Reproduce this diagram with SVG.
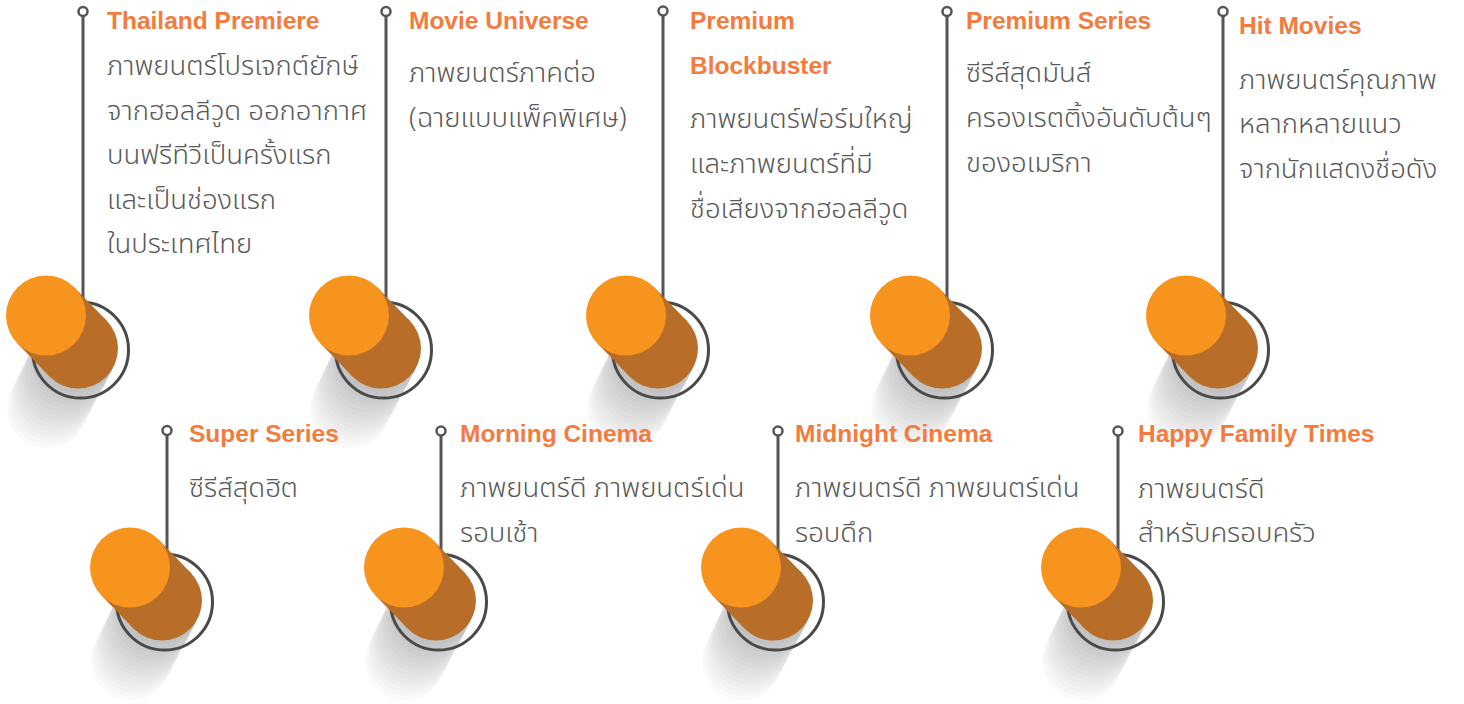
<svg xmlns="http://www.w3.org/2000/svg" width="1464" height="704" viewBox="0 0 1464 704">
<style>
.t{font-family:"Liberation Sans",Arial,sans-serif;font-weight:bold;font-size:24.5px;fill:#F47B3E}
.b{font-family:"Noto Sans Thai","Liberation Sans","DejaVu Sans",sans-serif;font-size:27.5px;font-weight:300;fill:#595959}
.stem{stroke:#555;stroke-width:3;fill:none}
.knob{stroke:#555;stroke-width:2.5;fill:#fff}
.ring{stroke:#4a4a4a;stroke-width:3;fill:none}
</style>
<defs>
<g id="shadow">
<circle cx="-31" cy="60" r="40" fill="#fafafa"/>
<circle cx="-29" cy="56" r="40" fill="#f6f6f6"/>
<circle cx="-27" cy="52" r="40" fill="#f2f2f2"/>
<circle cx="-25" cy="48" r="40" fill="#eeeeee"/>
<circle cx="-23" cy="44" r="40" fill="#eaeaea"/>
<circle cx="-21" cy="40" r="40" fill="#e6e6e6"/>
<circle cx="-19" cy="36" r="40" fill="#e2e2e2"/>
<circle cx="-17" cy="32" r="40" fill="#dedede"/>
<circle cx="-15" cy="28" r="40" fill="#dadada"/>
<circle cx="-13" cy="24" r="40" fill="#d6d6d6"/>
<circle cx="-10" cy="20" r="40" fill="#d2d2d2"/>
<circle cx="-8" cy="16" r="40" fill="#cecece"/>
<circle cx="-6" cy="12" r="40" fill="#cacaca"/>
<circle cx="-4" cy="8" r="40" fill="#c6c6c6"/>
<circle cx="-2" cy="4" r="40" fill="#c2c2c2"/>
</g>
<g id="pin">
<use href="#shadow" x="32" y="33"/>
<circle class="ring" cx="34.5" cy="34.5" r="48"/>
<polygon points="-28.7,27.8 3.3,60.8 60.7,5.2 28.7,-27.8" fill="#B86E28"/>
<circle cx="32" cy="33" r="40" fill="#B86E28"/>
<circle cx="0" cy="0" r="40" fill="#F7941D"/>
</g>
</defs>

<g id="connectors">
<line class="stem" x1="83" y1="16" x2="83" y2="302"/>
<line class="stem" x1="386" y1="16" x2="386" y2="302"/>
<line class="stem" x1="663" y1="15" x2="663" y2="302"/>
<line class="stem" x1="947" y1="16" x2="947" y2="302"/>
<line class="stem" x1="1223" y1="16" x2="1223" y2="302"/>
<line class="stem" x1="167" y1="435" x2="167" y2="554"/>
<line class="stem" x1="441" y1="435" x2="441" y2="554"/>
<line class="stem" x1="778" y1="435" x2="778" y2="554"/>
<line class="stem" x1="1118" y1="435" x2="1118" y2="554"/>
</g>

<g id="node-thailand-premiere">
<circle class="knob" cx="83" cy="11.5" r="4.5"/>
<use href="#pin" x="46" y="315.5"/>
<text class="t" x="107" y="29">Thailand Premiere</text>
<text class="b" x="107" y="75">ภาพยนตร์โปรเจกต์ยักษ์</text>
<text class="b" x="107" y="119.5">จากฮอลลีวูด ออกอากาศ</text>
<text class="b" x="107" y="164">บนฟรีทีวีเป็นครั้งแรก</text>
<text class="b" x="107" y="208.5">และเป็นช่องแรก</text>
<text class="b" x="107" y="253">ในประเทศไทย</text>
</g>

<g id="node-movie-universe">
<circle class="knob" cx="386" cy="11.5" r="4.5"/>
<use href="#pin" x="349" y="315.5"/>
<text class="t" x="409" y="29">Movie Universe</text>
<text class="b" x="409" y="82">ภาพยนตร์ภาคต่อ</text>
<text class="b" x="409" y="127">(ฉายแบบแพ็คพิเศษ)</text>
</g>

<g id="node-premium-blockbuster">
<circle class="knob" cx="663" cy="11" r="4.5"/>
<use href="#pin" x="626" y="315.5"/>
<text class="t" x="690" y="29">Premium</text>
<text class="t" x="690" y="74">Blockbuster</text>
<text class="b" x="690" y="128">ภาพยนตร์ฟอร์มใหญ่</text>
<text class="b" x="690" y="173">และภาพยนตร์ที่มี</text>
<text class="b" x="690" y="218">ชื่อเสียงจากฮอลลีวูด</text>
</g>

<g id="node-premium-series">
<circle class="knob" cx="947" cy="11.5" r="4.5"/>
<use href="#pin" x="910" y="315.5"/>
<text class="t" x="966" y="29">Premium Series</text>
<text class="b" x="966" y="82">ซีรีส์สุดมันส์</text>
<text class="b" x="966" y="127">ครองเรตติ้งอันดับต้นๆ</text>
<text class="b" x="966" y="172">ของอเมริกา</text>
</g>

<g id="node-hit-movies">
<circle class="knob" cx="1223" cy="11.5" r="4.5"/>
<use href="#pin" x="1186" y="315.5"/>
<text class="t" x="1239" y="34">Hit Movies</text>
<text class="b" x="1239" y="89">ภาพยนตร์คุณภาพ</text>
<text class="b" x="1239" y="133">หลากหลายแนว</text>
<text class="b" x="1239" y="178">จากนักแสดงชื่อดัง</text>
</g>

<g id="node-super-series">
<circle class="knob" cx="167" cy="430.5" r="4.5"/>
<use href="#pin" x="130" y="567.5"/>
<text class="t" x="189" y="442">Super Series</text>
<text class="b" x="189" y="497">ซีรีส์สุดฮิต</text>
</g>

<g id="node-morning-cinema">
<circle class="knob" cx="441" cy="431" r="4.5"/>
<use href="#pin" x="404" y="567.5"/>
<text class="t" x="460" y="442">Morning Cinema</text>
<text class="b" x="460" y="497">ภาพยนตร์ดี ภาพยนตร์เด่น</text>
<text class="b" x="460" y="542">รอบเช้า</text>
</g>

<g id="node-midnight-cinema">
<circle class="knob" cx="778" cy="431" r="4.5"/>
<use href="#pin" x="741" y="567.5"/>
<text class="t" x="795" y="442">Midnight Cinema</text>
<text class="b" x="795" y="497">ภาพยนตร์ดี ภาพยนตร์เด่น</text>
<text class="b" x="795" y="542">รอบดึก</text>
</g>

<g id="node-happy-family-times">
<circle class="knob" cx="1118" cy="431" r="4.5"/>
<use href="#pin" x="1081" y="567.5"/>
<text class="t" x="1138" y="442">Happy Family Times</text>
<text class="b" x="1138" y="498">ภาพยนตร์ดี</text>
<text class="b" x="1138" y="542">สำหรับครอบครัว</text>
</g>
</svg>
